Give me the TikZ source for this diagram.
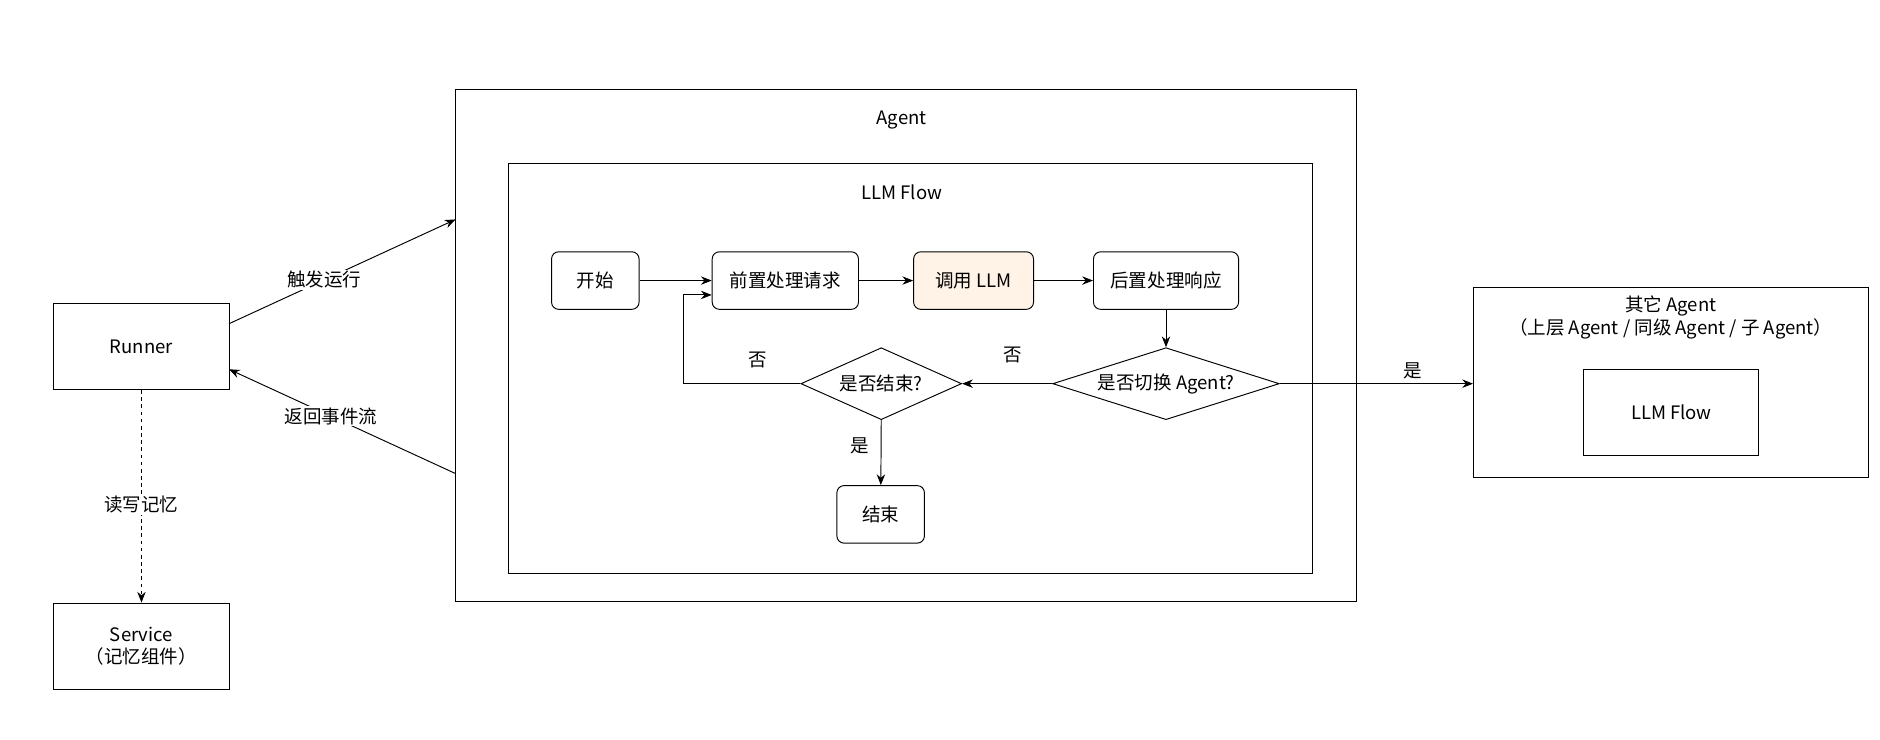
\documentclass[tikz,border=0pt]{standalone}
\usepackage{fontspec}
\setmainfont{Noto Sans CJK SC}
\usetikzlibrary{arrows.meta,shapes.geometric}
\begin{document}
\begin{tikzpicture}[x=1bp,y=-1bp,font=\fontsize{15.5}{19}\selectfont,
  box/.style={draw,line width=0.8pt,inner sep=0},
  rbox/.style={draw,line width=0.8pt,rounded corners=6bp,inner sep=0},
  dia/.style={draw,diamond,line width=0.8pt,inner sep=0},
  arr/.style={-{Stealth[length=9bp,width=7bp]},line width=0.8pt},
  lbl/.style={inner sep=1bp}]
\useasboundingbox (0,0) rectangle (1568,617);
\node[box,minimum width=146bp,minimum height=72bp] (runner) at (118,289) {Runner};
\node[box,minimum width=146bp,minimum height=72bp,align=center] (service) at (118,539) {Service\\（记忆组件）};
\node[box,minimum width=751bp,minimum height=427bp] (agent) at (755.5,288.5) {};
\node at (752,100) {Agent};
\node[box,minimum width=671bp,minimum height=342bp] (flow) at (759.5,307) {};
\node at (752,160) {LLM Flow};
\node[rbox,minimum width=73bp,minimum height=48bp] (start) at (496.5,234) {开始};
\node[rbox,minimum width=122bp,minimum height=48bp] (pre) at (655,234) {前置处理请求};
\node[rbox,minimum width=100bp,minimum height=48bp,fill={rgb,255:red,255;green,242;blue,230}] (llm) at (812,234) {调用 LLM};
\node[rbox,minimum width=121bp,minimum height=48bp] (post) at (972.5,234) {后置处理响应};
\node[dia,minimum width=189bp,minimum height=60bp,aspect=3.15] (sw) at (972.5,320) {是否切换 Agent?};
\node[dia,minimum width=134bp,minimum height=60bp,aspect=2.23] (fin) at (735,320) {是否结束?};
\node[rbox,minimum width=73bp,minimum height=48bp] (end) at (734.5,429) {结束};
\node[box,minimum width=329bp,minimum height=158bp] (other) at (1393.5,319) {};
\node[align=center] at (1393.5,265) {其它 Agent\\（上层 Agent / 同级 Agent / 子 Agent）};
\node[box,minimum width=146bp,minimum height=72bp] (oflow) at (1394,344) {LLM Flow};
\coordinate (a1) at (380,183);
\coordinate (a2) at (380,395);
\coordinate (r1) at (191,270);
\coordinate (r2) at (191,308);
\draw[arr] (r1) -- node[lbl,fill=white,pos=0.42] {触发运行} (a1);
\draw[arr] (a2) -- node[lbl,fill=white,pos=0.55] {返回事件流} (r2);
\draw[arr,dashed] (runner) -- node[lbl,fill=white,pos=0.54] {读写记忆} (service);
\draw[arr] (start) -- (pre);
\draw[arr] (pre) -- (llm);
\draw[arr] (llm) -- (post);
\draw[arr] (post) -- (sw);
\draw[arr] (sw.west) -- (fin.east);
\node at (845,296) {否};
\draw[arr] (fin.west) -- (570,320) -- (570,246) -- (pre.west |- 0,246);
\node at (632,300) {否};
\draw[arr] (fin.south) -- (end);
\node at (717,372) {是};
\draw[arr] (sw.east) -- (other.west |- sw.east);
\node at (1178,309) {是};
\end{tikzpicture}
\end{document}
